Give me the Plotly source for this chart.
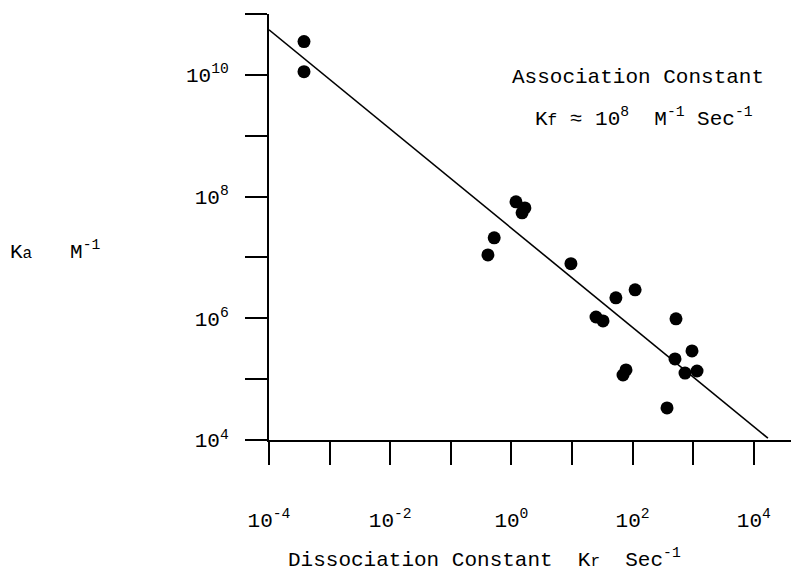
import plotly.graph_objects as go

# Data (log-log)
kr_points = [3.78e-4, 3.78e-4, 1.19, 1.67, 1.50, 0.52, 0.41, 9.6, 53, 110,
             24.9, 32.5, 520, 955, 501, 733, 1156, 77.8, 69.5, 370]
ka_points = [3.52e10, 1.13e10, 8.2e7, 6.5e7, 5.4e7, 2.1e7, 1.1e7, 7.9e6, 2.17e6, 2.93e6,
             1.05e6, 9.06e5, 9.8e5, 2.91e5, 2.15e5, 1.26e5, 1.36e5, 1.42e5, 1.17e5, 3.36e4]

kr_line = [1e-4, 1.71e4]
ka_line = [5.5e10, 1.07e4]

x_tickvals = [1e-4, 1e-3, 1e-2, 1e-1, 1e0, 1e1, 1e2, 1e3, 1e4]
x_ticktext = ["10<sup>-4</sup>", "", "10<sup>-2</sup>", "", "10<sup>0</sup>", "",
              "10<sup>2</sup>", "", "10<sup>4</sup>"]
y_tickvals = [1e4, 1e5, 1e6, 1e7, 1e8, 1e9, 1e10, 1e11]
y_ticktext = ["10<sup>4</sup>", "", "10<sup>6</sup>", "", "10<sup>8</sup>", "",
              "10<sup>10</sup>", ""]

FONT = "Liberation Mono"
OFF = 8  # page body margin
W, H = 799 - OFF, 578 - OFF
L, R, T, B = 269 - OFF, 0, 14 - OFF, 138
pw, ph = W - L - R, H - T - B


def px(x):
    return (x - OFF - L) / pw


def py(y):
    return (H - B - (y - OFF)) / ph


fig = go.Figure()
fig.add_trace(go.Scatter(x=kr_line, y=ka_line, mode="lines",
                         line=dict(color="black", width=1.6),
                         hoverinfo="skip", showlegend=False, cliponaxis=False))
fig.add_trace(go.Scatter(x=kr_points, y=ka_points, mode="markers",
                         marker=dict(color="black", size=13),
                         showlegend=False, cliponaxis=False))

fig.update_layout(
    width=W, height=H,
    margin=dict(l=L, r=R, t=T, b=B, autoexpand=False),
    plot_bgcolor="white", paper_bgcolor="white",
    font=dict(family=FONT, size=21, color="black"),
    xaxis=dict(type="log", range=[-4, -4 + pw / 60.6], showgrid=False, zeroline=False,
               showline=True, linecolor="black", linewidth=2,
               ticks="outside", ticklen=23, tickwidth=2, tickcolor="black",
               tickvals=x_tickvals, ticktext=x_ticktext, ticklabelstandoff=37,
               automargin=False, tickfont=dict(family=FONT, size=21)),
    yaxis=dict(type="log", range=[4, 11], showgrid=False, zeroline=False,
               showline=True, linecolor="black", linewidth=2,
               ticks="outside", ticklen=22, tickwidth=2, tickcolor="black",
               tickvals=y_tickvals, ticktext=y_ticktext, ticklabelstandoff=12,
               automargin=False, tickfont=dict(family=FONT, size=21)),
)

ann = dict(xref="paper", yref="paper", showarrow=False, font=dict(family=FONT, size=21, color="black"))
fig.add_annotation(x=px(286), y=py(558), xanchor="left", yanchor="middle",
                   text="Dissociation Constant\u00a0\u00a0K<span style='font-size:16px'>r</span>\u00a0\u00a0Sec<sup>-1</sup>", **ann)
fig.add_annotation(x=px(8), y=py(250), xanchor="left", yanchor="middle",
                   text="K<span style='font-size:16px'>a</span>\u00a0\u00a0\u00a0M<sup>-1</sup>", **ann)
fig.add_annotation(x=px(510), y=py(78), xanchor="left", yanchor="middle",
                   text="Association Constant", **ann)
fig.add_annotation(x=px(533), y=py(118), xanchor="left", yanchor="middle",
                   text="K<span style='font-size:16px'>f</span> \u2248 10<sup>8</sup>\u00a0\u00a0M<sup>-1</sup> Sec<sup>-1</sup>", **ann)

fig.write_html("out.html")
